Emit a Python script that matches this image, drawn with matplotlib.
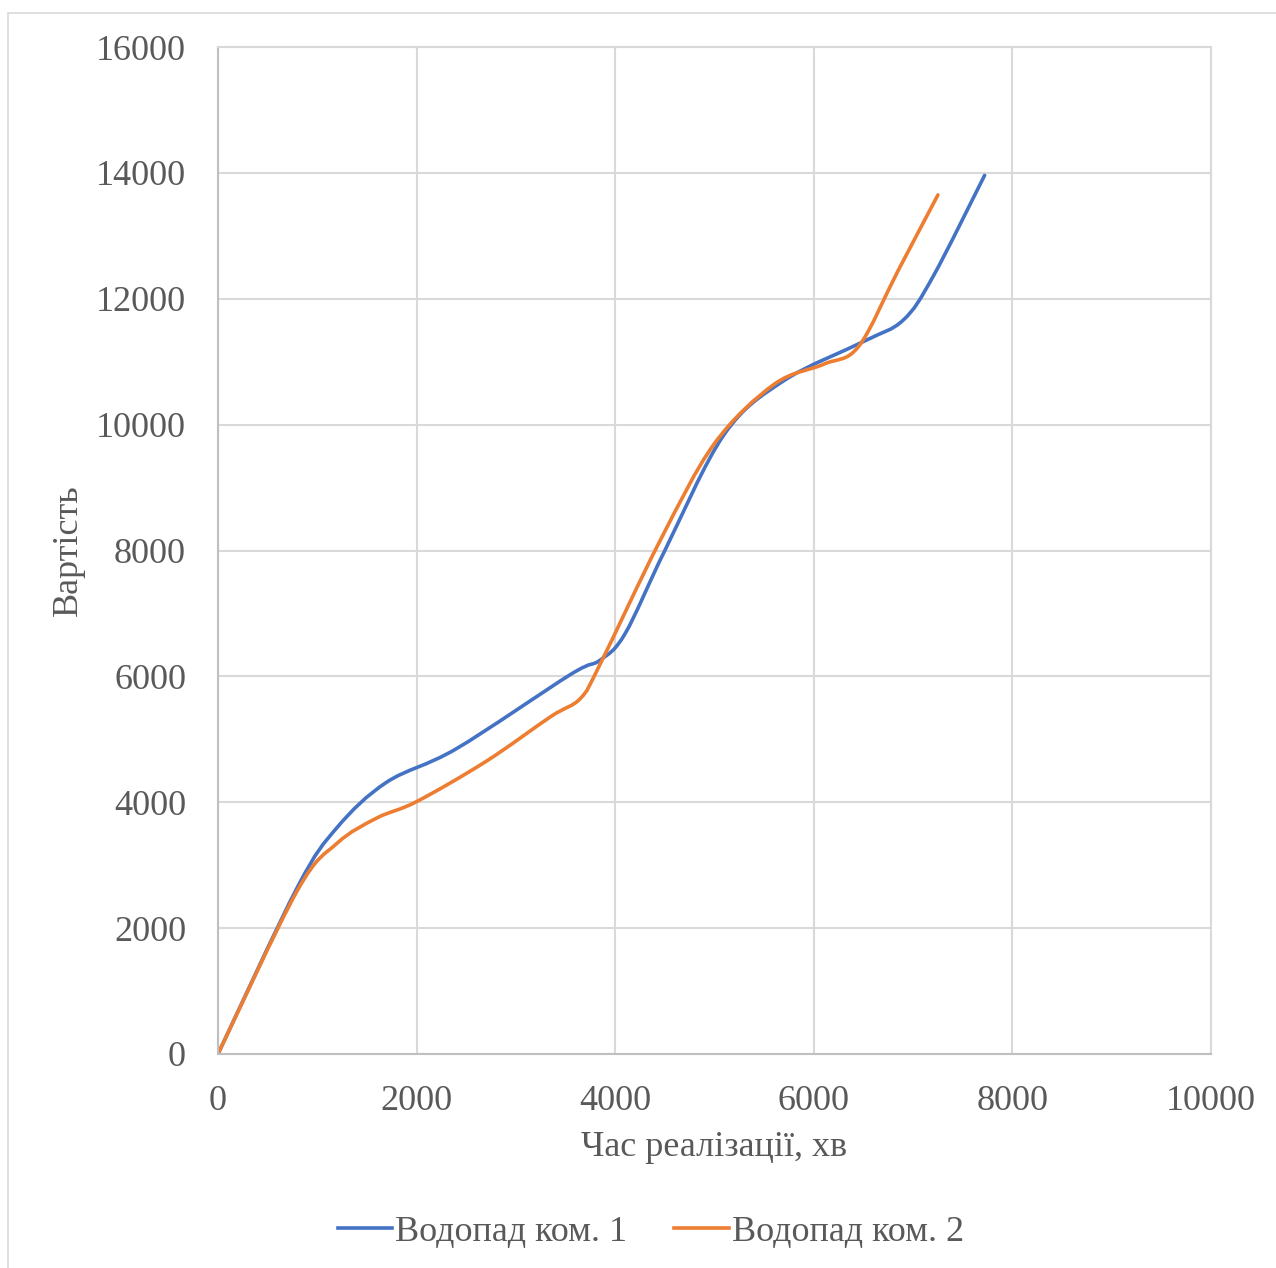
import matplotlib
matplotlib.use("Agg")
import matplotlib.pyplot as plt
from matplotlib.path import Path
from matplotlib.patches import PathPatch, Rectangle
from matplotlib.lines import Line2D
import numpy as np

plt.rcParams['font.family'] = ['Liberation Serif', 'DejaVu Serif']

# Series data: implementation time (min) vs cost
series1_name = "Водопад ком. 1"
series1_x = [0, 800, 1200, 1700, 2400, 3550, 3850, 4100, 4500, 5100, 5700, 6500, 6900, 7200, 7720]
series1_y = [0, 2650, 3600, 4320, 4850, 6030, 6260, 6680, 8000, 9850, 10700, 11320, 11660, 12350, 13960]

series2_name = "Водопад ком. 2"
series2_x = [0, 800, 1200, 1600, 2000, 2700, 3350, 3650, 3850, 4450, 5000, 5600, 6100, 6450, 6850, 7250]
series2_y = [0, 2600, 3350, 3750, 4010, 4650, 5360, 5650, 6200, 8150, 9700, 10640, 10960, 11240, 12450, 13650]

x_ticks = [0, 2000, 4000, 6000, 8000, 10000]
y_ticks = [0, 2000, 4000, 6000, 8000, 10000, 12000, 14000, 16000]
x_label = "Час реалізації, хв"
y_label = "Вартість"

BLUE = "#4472C4"
ORANGE = "#ED7D31"
TEXT = "#595959"


def smooth_path(xs, ys):
    """Cubic Bezier path through the points (Catmull-Rom style smoothing)."""
    p = np.column_stack([xs, ys]).astype(float)
    n = len(p)
    verts = [p[0]]
    codes = [Path.MOVETO]
    for i in range(n - 1):
        p0 = p[i - 1] if i > 0 else p[i]
        p1 = p[i]
        p2 = p[i + 1]
        p3 = p[i + 2] if i + 2 < n else p[i + 1]
        c1 = p1 + (p2 - p0) / 6.0
        c2 = p2 - (p3 - p1) / 6.0
        verts += [c1, c2, p2]
        codes += [Path.CURVE4] * 3
    return Path(verts, codes)


fig = plt.figure(figsize=(12.76, 12.68), dpi=100)

# chart area outline
fig.patches.append(Rectangle((8 / 1276, -0.1), 1.2, 1 - 13 / 1268 + 0.1,
                             transform=fig.transFigure, fill=False,
                             edgecolor="#d9d9d9", linewidth=1.2))

ax = fig.add_axes([218 / 1276, 1 - 1054 / 1268, (1211 - 218) / 1276, (1054 - 47) / 1268])
ax.set_xlim(0, 10000)
ax.set_ylim(0, 16000)
ax.set_xticks(x_ticks)
ax.set_yticks(y_ticks)
ax.grid(True, color="#d9d9d9", linewidth=1.5)
ax.set_axisbelow(True)
for side in ["top", "right"]:
    ax.spines[side].set_color("#d9d9d9")
    ax.spines[side].set_linewidth(1.5)
for side in ["left", "bottom"]:
    ax.spines[side].set_color("#bfbfbf")
    ax.spines[side].set_linewidth(1.5)
ax.tick_params(length=0, labelsize=26, labelcolor=TEXT)
ax.tick_params(axis="y", pad=23)
ax.tick_params(axis="x", pad=22)

for xs, ys, col in [(series1_x, series1_y, BLUE), (series2_x, series2_y, ORANGE)]:
    ax.add_patch(PathPatch(smooth_path(xs, ys), facecolor="none", edgecolor=col,
                           linewidth=2.6, capstyle="round", joinstyle="round"))

ax.set_xlabel(x_label, fontsize=26, color=TEXT, labelpad=10)
ax.set_ylabel(y_label, fontsize=26, color=TEXT, labelpad=8)

handles = [Line2D([], [], color=BLUE, linewidth=2.6),
           Line2D([], [], color=ORANGE, linewidth=2.6)]
fig.legend(handles, [series1_name, series2_name], loc="center",
           bbox_to_anchor=(651 / 1276, 1 - 1232 / 1268), ncol=2, frameon=False,
           fontsize=26, labelcolor=TEXT, handlelength=1.5, handletextpad=0.1,
           columnspacing=1.3)

fig.savefig("out.png", dpi=100, facecolor="white")
